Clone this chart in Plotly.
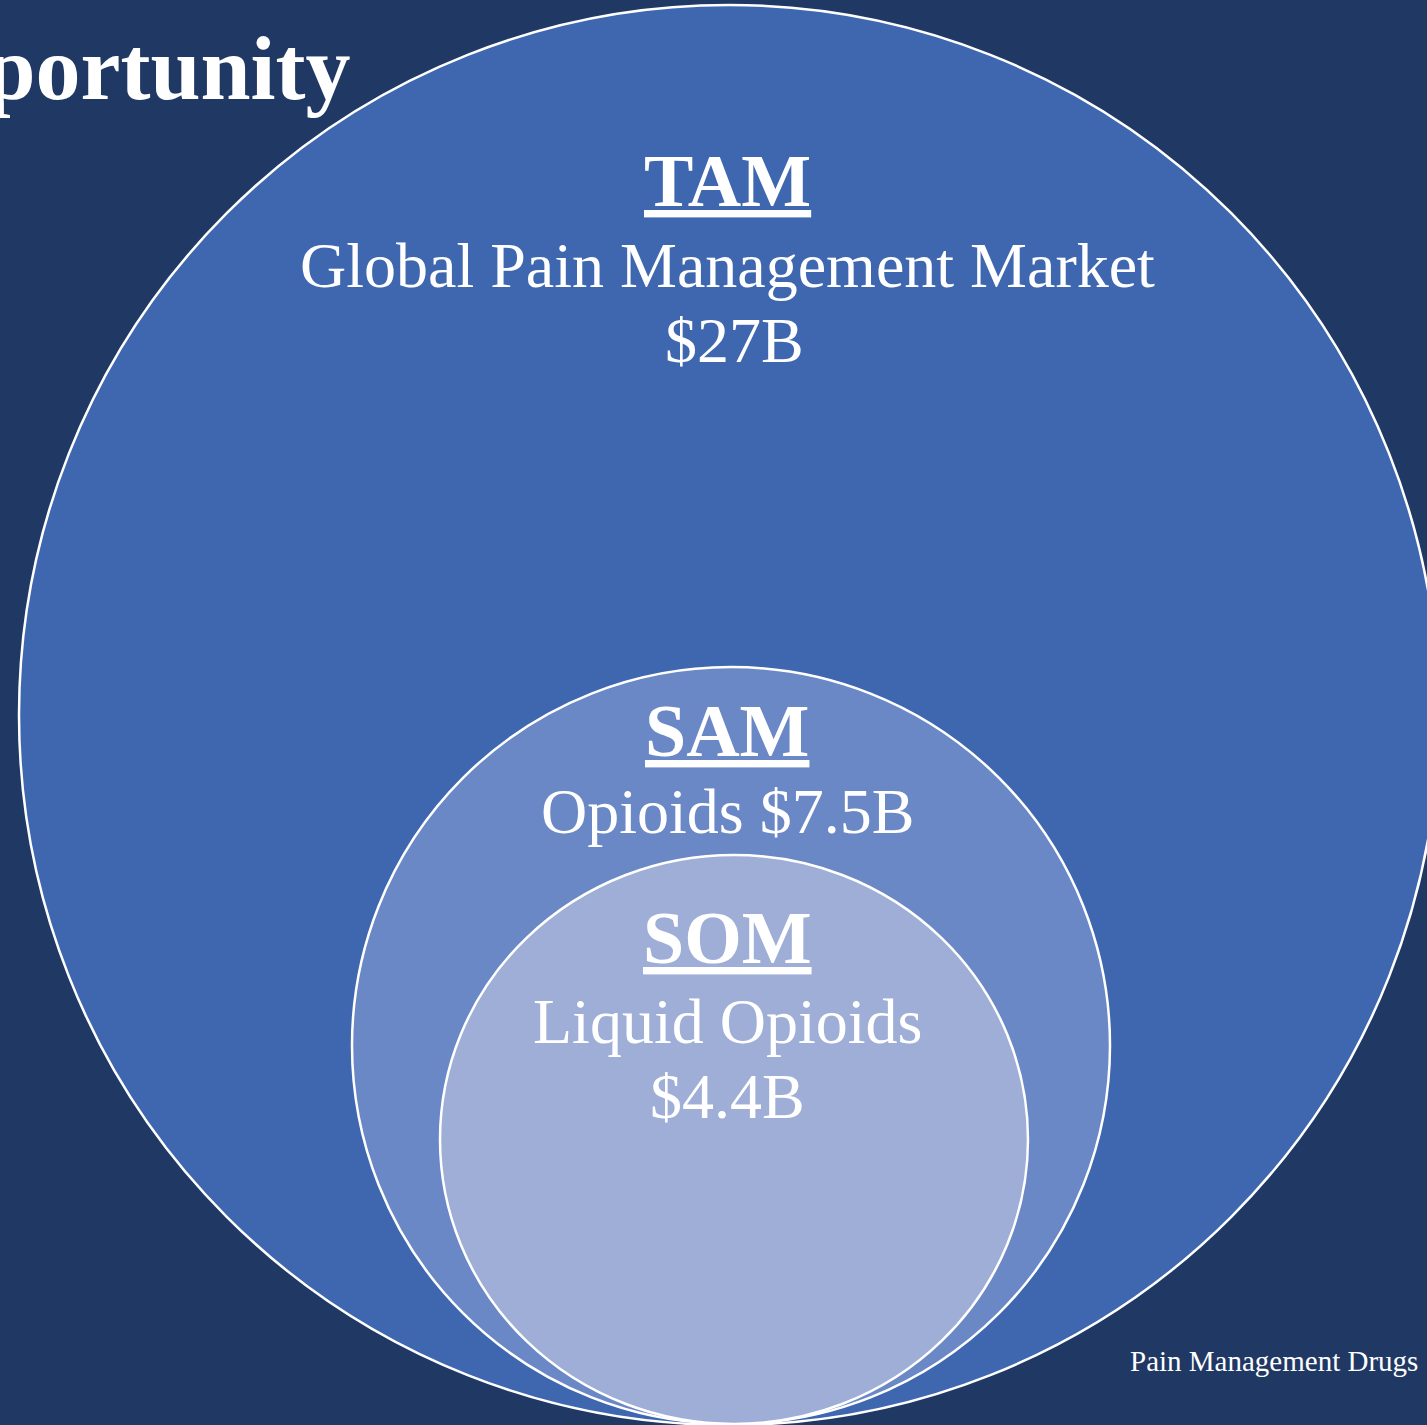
import plotly.graph_objects as go

# ---- data ----
segments = ["TAM", "SAM", "SOM"]
descriptions = [["Global Pain Management Market", "$27B"],
                ["Opioids $7.5B"],
                ["Liquid Opioids", "$4.4B"]]
market_values_b = [27, 7.5, 4.4]
title_text = "Market Opportunity"
footnote_text = "Pain Management Drugs"

# ---- layout / style ----
W, H = 1427, 1425
bg = "#203864"
fills = ["#3F67B0", "#6A87C6", "#9EAED7"]
# ellipse bounds (x0, x1, y0, y1) in pixel space
bounds = [(19, 1439, 5, 1425), (352, 1110, 667, 1424), (440, 1028, 855, 1424)]
header_y = [181, 731, 938]
desc_y = [[265, 340], [811], [1021, 1096]]
desc_x = [[727, 734], [727], [727, 727]]
cx = 727
serif = "Liberation Serif, Times New Roman, serif"

fig = go.Figure()
shapes = []
for (x0, x1, y0, y1), fc in zip(bounds, fills):
    shapes.append(dict(type="circle", xref="x", yref="y", x0=x0, x1=x1, y0=y0, y1=y1,
                       fillcolor=fc, line=dict(color="white", width=2.5), layer="above"))

annotations = []
for seg, desc, hy, dys, dxs in zip(segments, descriptions, header_y, desc_y, desc_x):
    annotations.append(dict(x=cx, y=hy, xref="x", yref="y", text=f"<b><u>{seg}</u></b>",
                            showarrow=False, xanchor="center", yanchor="middle",
                            font=dict(family=serif, size=74, color="white")))
    for line, dy, dx in zip(desc, dys, dxs):
        annotations.append(dict(x=dx, y=dy, xref="x", yref="y", text=line,
                                showarrow=False, xanchor="center", yanchor="middle",
                                font=dict(family=serif, size=64, color="white")))

annotations.append(dict(x=352, y=68, xref="x", yref="y", text=f"<b>{title_text}</b>",
                        showarrow=False, xanchor="right", yanchor="middle",
                        font=dict(family=serif, size=90, color="white")))
annotations.append(dict(x=1420, y=1361, xref="x", yref="y", text=footnote_text,
                        showarrow=False, xanchor="right", yanchor="middle",
                        font=dict(family=serif, size=29, color="white")))

fig.update_layout(
    width=W, height=H, margin=dict(l=0, r=0, t=0, b=0),
    paper_bgcolor=bg, plot_bgcolor=bg,
    xaxis=dict(range=[0, W], visible=False, fixedrange=True),
    yaxis=dict(range=[H, 0], visible=False, fixedrange=True),
    shapes=shapes, annotations=annotations, showlegend=False,
)
fig.write_html("out.html", config={"displayModeBar": False},
               post_script="document.body.style.margin='0';document.body.style.overflow='hidden';")
